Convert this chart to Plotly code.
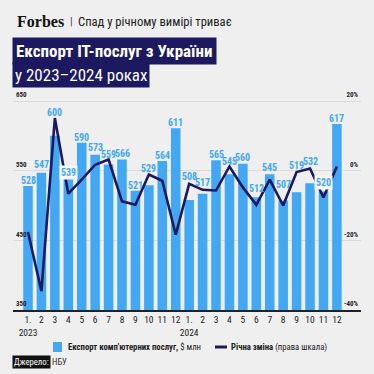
import plotly.graph_objects as go

# ---- data ----
months = ["1.<br>2023", "2", "3", "4", "5", "6", "7", "8", "9", "10", "11", "12",
          "1.<br>2024", "2", "3", "4", "5", "6", "7", "8", "9", "10", "11", "12"]
export_musd = [528, 547, 600, 539, 590, 573, 559, 566, 521, 529, 564, 611,
               508, 517, 565, 545, 560, 512, 545, 507, 519, 532, 520, 617]
yoy_change = [-17.6, -34.6, 15.1, -6.6, -2.6, 1.7, 3.2, -8.8, -9.8, -1.1, -2.9, -18.4,
              -3.8, -5.5, -5.7, 1.2, -4.8, -9.8, -2.6, -10.0, -0.4, 0.6, -7.7, 1.2]
left_ticks = [350, 450, 550, 650]
right_ticks = [-40, -20, 0, 20]
right_ticktext = ["-40%", "-20%", "0%", "20%"]

# ---- style ----
boxed_labels = {3, 22}  # labels with a light background box
label_lift = {1: 3, 2: 18, 5: 2, 6: 4, 7: 1, 9: 11, 12: 18, 13: 6, 15: 7, 16: 1,
              17: 3, 18: 1, 19: 11, 20: 21, 21: 16, 22: 4}  # extra px lift to clear the line
BG = "#efefef"
BLUE = "#42a8f3"
NAVY = "#1c1960"
NARROW = "Roboto Condensed, DejaVu Sans Condensed, Roboto, sans-serif"
W = H = 374
L, R, T, B = 13, 13, 88, 64
PW, PH = W - L - R, H - T - B

def px(x):
    return (x - L) / PW

def py(y):
    return (H - B - y) / PH

x = list(range(len(months)))

fig = go.Figure()
fig.add_trace(go.Bar(x=x, y=export_musd, marker=dict(color=BLUE, line=dict(width=0)),
                     name="Експорт", yaxis="y", hoverinfo="skip"))
fig.add_trace(go.Scatter(x=x, y=yoy_change, mode="lines", yaxis="y2",
                         line=dict(color=NAVY, width=2.6), hoverinfo="skip"))

annotations = []
for i, v in enumerate(export_musd):
    annotations.append(dict(
        x=i, y=v, xref="x", yref="y", text=str(v), showarrow=False,
        yanchor="bottom", yshift=-2 + label_lift.get(i, 0),
        font=dict(family=NARROW, size=10, color=BLUE, weight="bold"),
        bgcolor="#f8f8f8" if i in boxed_labels else None, borderpad=1))

# header
annotations += [
    dict(x=px(15), y=py(22), xref="paper", yref="paper", text="<b>Forbes</b>", showarrow=False,
         xanchor="left", yanchor="middle", font=dict(family="Liberation Serif, DejaVu Serif, serif", size=16, color="#111")),
    dict(x=px(68), y=py(22), xref="paper", yref="paper", text="|", showarrow=False,
         xanchor="left", yanchor="middle", font=dict(family=NARROW, size=11, color="#444")),
    dict(x=px(76), y=py(22), xref="paper", yref="paper", text="Спад у річному вимірі триває", showarrow=False,
         xanchor="left", yanchor="middle", font=dict(family=NARROW, size=12.6, color="#222")),
    dict(x=px(12), y=py(37), xref="paper", yref="paper", text="<b>Експорт IT-послуг з України</b>", showarrow=False,
         xanchor="left", yanchor="top", bgcolor=NAVY, borderpad=3,
         font=dict(family=NARROW, size=17, color="white")),
    dict(x=px(12), y=py(61.5), xref="paper", yref="paper", text="у 2023–2024 роках", showarrow=False,
         xanchor="left", yanchor="top", bgcolor=NAVY, borderpad=2,
         font=dict(family=NARROW, size=17, color="white")),
]

# legend
annotations += [
    dict(x=px(66), y=py(347), xref="paper", yref="paper",
         text="<b>Експорт комп'ютерних послуг,</b> $ млн", showarrow=False,
         xanchor="left", yanchor="middle", font=dict(family=NARROW, size=8.7, color="#222")),
    dict(x=px(229), y=py(347), xref="paper", yref="paper",
         text="<b>Річна зміна</b> (права шкала)", showarrow=False,
         xanchor="left", yanchor="middle", font=dict(family=NARROW, size=8.7, color="#222")),
    dict(x=px(12), y=py(361.5), xref="paper", yref="paper", text="Джерело:", showarrow=False,
         xanchor="left", yanchor="middle", bgcolor="#111", borderpad=1,
         font=dict(family=NARROW, size=8.7, color="white")),
    dict(x=px(50), y=py(361.5), xref="paper", yref="paper", text="НБУ", showarrow=False,
         xanchor="left", yanchor="middle", font=dict(family=NARROW, size=8.7, color="#333")),
]

shapes = [
    dict(type="rect", xref="paper", yref="paper", x0=px(53), x1=px(62), y0=py(352), y1=py(342),
         fillcolor=BLUE, line=dict(width=0)),
    dict(type="line", xref="paper", yref="paper", x0=px(215), x1=px(227), y0=py(347), y1=py(347),
         line=dict(color=NAVY, width=3)),
]

fig.update_layout(
    width=W, height=H, margin=dict(l=L, r=R, t=T, b=B, autoexpand=False),
    paper_bgcolor=BG, plot_bgcolor=BG, showlegend=False, bargap=0.29,
    annotations=annotations, shapes=shapes,
    xaxis=dict(tickmode="array", tickvals=x, ticktext=months, range=[-1.117, 24.795],
               showgrid=False, zeroline=False, showline=True, linecolor="#222", linewidth=1.5,
               ticks="", tickangle=0, automargin=False,
               tickfont=dict(family=NARROW, size=9.5, color="#222")),
    yaxis=dict(range=[350, 668.66], tickmode="array", tickvals=left_ticks, automargin=False,
               showgrid=True, gridcolor="#dadada", gridwidth=1, zeroline=False,
               ticklabelposition="inside", ticklabelshift=-6, ticklabelstandoff=0,
               tickfont=dict(family=NARROW, size=7, color="#222", weight="bold")),
    yaxis2=dict(range=[-40, 23.73], overlaying="y", side="right", tickmode="array", automargin=False,
                tickvals=right_ticks, ticktext=right_ticktext, showgrid=False, zeroline=False,
                ticklabelposition="inside", ticklabelshift=-6, ticklabelstandoff=0,
                tickfont=dict(family=NARROW, size=7, color="#222", weight="bold")),
)

fig.write_html("out.html", config={"displayModeBar": False},
               post_script="document.body.style.margin='0px';")
